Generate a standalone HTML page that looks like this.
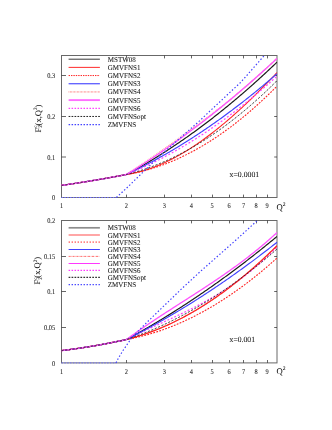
<!DOCTYPE html>
<html><head><meta charset="utf-8"><title>F2c plots</title>
<style>
html,body{margin:0;padding:0;background:#fff;}
body{width:332px;height:430px;overflow:hidden;}
svg{display:block;}
text{font-family:"Liberation Serif",serif;fill:#111;text-rendering:geometricPrecision;}
text{filter:grayscale(1);stroke:#111;stroke-width:0.05px;}
</style></head><body>
<svg width="332" height="430" viewBox="0 0 332 430">
<rect width="332" height="430" fill="#fff"/>

<defs><clipPath id="cu"><rect x="61.0" y="55.5" width="216.5" height="143.0"/></clipPath><clipPath id="cl"><rect x="61.0" y="220.5" width="216.5" height="143.39999999999998"/></clipPath></defs>
<rect x="61.5" y="55.5" width="215.5" height="142.0" fill="none" stroke="#686868" stroke-width="1"/>
<path d="M126.50 197.5v-2.9M126.50 55.5v2.9" stroke="#333" stroke-width="0.75" fill="none"/>
<path d="M164.50 197.5v-2.9M164.50 55.5v2.9" stroke="#333" stroke-width="0.75" fill="none"/>
<path d="M191.50 197.5v-2.9M191.50 55.5v2.9" stroke="#333" stroke-width="0.75" fill="none"/>
<path d="M212.50 197.5v-2.9M212.50 55.5v2.9" stroke="#333" stroke-width="0.75" fill="none"/>
<path d="M229.50 197.5v-2.9M229.50 55.5v2.9" stroke="#333" stroke-width="0.75" fill="none"/>
<path d="M243.50 197.5v-2.9M243.50 55.5v2.9" stroke="#333" stroke-width="0.75" fill="none"/>
<path d="M256.50 197.5v-2.9M256.50 55.5v2.9" stroke="#333" stroke-width="0.75" fill="none"/>
<path d="M267.50 197.5v-2.9M267.50 55.5v2.9" stroke="#333" stroke-width="0.75" fill="none"/>
<path d="M61.5 157.00h4.5M277.0 157.00h-2.8" stroke="#333" stroke-width="0.75" fill="none"/>
<path d="M61.5 116.50h4.5M277.0 116.50h-2.8" stroke="#333" stroke-width="0.75" fill="none"/>
<path d="M61.5 75.50h4.5M277.0 75.50h-2.8" stroke="#333" stroke-width="0.75" fill="none"/>
<text transform="translate(55.1,200.10) scale(0.87,1)" font-size="7.3" text-anchor="end">0</text>
<text transform="translate(55.1,159.80) scale(0.87,1)" font-size="7.3" text-anchor="end">0.1</text>
<text transform="translate(55.1,119.10) scale(0.87,1)" font-size="7.3" text-anchor="end">0.2</text>
<text transform="translate(55.1,78.30) scale(0.87,1)" font-size="7.3" text-anchor="end">0.3</text>
<text transform="translate(61.50,208.20) scale(0.87,1)" font-size="7.3" text-anchor="middle">1</text>
<text transform="translate(126.37,208.20) scale(0.87,1)" font-size="7.3" text-anchor="middle">2</text>
<text transform="translate(164.32,208.20) scale(0.87,1)" font-size="7.3" text-anchor="middle">3</text>
<text transform="translate(191.24,208.20) scale(0.87,1)" font-size="7.3" text-anchor="middle">4</text>
<text transform="translate(212.13,208.20) scale(0.87,1)" font-size="7.3" text-anchor="middle">5</text>
<text transform="translate(229.19,208.20) scale(0.87,1)" font-size="7.3" text-anchor="middle">6</text>
<text transform="translate(243.62,208.20) scale(0.87,1)" font-size="7.3" text-anchor="middle">7</text>
<text transform="translate(256.12,208.20) scale(0.87,1)" font-size="7.3" text-anchor="middle">8</text>
<text transform="translate(267.14,208.20) scale(0.87,1)" font-size="7.3" text-anchor="middle">9</text>
<text x="276.6" y="210.30" font-size="8.6">Q<tspan dy="-4.4" font-size="5.6">2</tspan></text>
<g transform="translate(40.6,132.4) rotate(-90)"><text x="0" y="0" font-size="8.5">F<tspan dy="1.8" font-size="5">2</tspan><tspan dx="-2.5" dy="-5.2" font-size="5">c</tspan><tspan dy="3.4" font-size="8.5">(x,Q</tspan><tspan dy="-3.4" font-size="5">2</tspan><tspan dy="3.4" font-size="8.5">)</tspan></text></g>
<g clip-path="url(#cu)" fill="none" stroke-linejoin="round">
<polyline points="61.50,185.40 62.50,185.26 63.50,185.11 64.50,184.97 65.50,184.82 66.50,184.68 67.50,184.53 68.50,184.38 69.50,184.23 70.50,184.09 71.50,183.94 72.50,183.79 73.50,183.63 74.50,183.48 75.50,183.33 76.50,183.17 77.50,183.02 78.50,182.87 79.50,182.71 80.50,182.55 81.50,182.39 82.50,182.24 83.50,182.08 84.50,181.92 85.50,181.76 86.50,181.59 87.50,181.43 88.50,181.27 89.50,181.11 90.50,180.94 91.50,180.78 92.50,180.61 93.50,180.44 94.50,180.27 95.50,180.11 96.50,179.94 97.50,179.77 98.50,179.60 99.50,179.42 100.50,179.25 101.50,179.08 102.50,178.91 103.50,178.73 104.50,178.56 105.50,178.38 106.50,178.20 107.50,178.02 108.50,177.85 109.50,177.67 110.50,177.49 111.50,177.31 112.50,177.12 113.50,176.94 114.50,176.76 115.50,176.57 116.50,176.39 117.50,176.20 118.50,176.02 119.50,175.83 120.50,175.64 121.50,175.45 122.50,175.27 123.50,175.08 124.50,174.88 125.50,174.69 126.50,174.50 127.50,173.96 128.50,173.43 129.50,172.89 130.50,172.34 131.50,171.79 132.50,171.25 133.50,170.69 134.50,170.14 135.50,169.58 136.50,169.02 137.50,168.46 138.50,167.89 139.50,167.32 140.50,166.75 141.50,166.17 142.50,165.60 143.50,165.01 144.50,164.43 145.50,163.84 146.50,163.26 147.50,162.66 148.50,162.07 149.50,161.47 150.50,160.87 151.50,160.27 152.50,159.66 153.50,159.05 154.50,158.44 155.50,157.83 156.50,157.21 157.50,156.59 158.50,155.97 159.50,155.34 160.50,154.71 161.50,154.08 162.50,153.45 163.50,152.81 164.50,152.17 165.50,151.53 166.50,150.88 167.50,150.24 168.50,149.58 169.50,148.93 170.50,148.27 171.50,147.61 172.50,146.95 173.50,146.29 174.50,145.62 175.50,144.95 176.50,144.28 177.50,143.60 178.50,142.92 179.50,142.24 180.50,141.55 181.50,140.86 182.50,140.17 183.50,139.48 184.50,138.78 185.50,138.09 186.50,137.38 187.50,136.68 188.50,135.97 189.50,135.26 190.50,134.55 191.50,133.83 192.50,133.11 193.50,132.39 194.50,131.67 195.50,130.94 196.50,130.21 197.50,129.48 198.50,128.74 199.50,128.00 200.50,127.26 201.50,126.52 202.50,125.77 203.50,125.02 204.50,124.27 205.50,123.51 206.50,122.76 207.50,121.99 208.50,121.23 209.50,120.46 210.50,119.70 211.50,118.92 212.50,118.15 213.50,117.37 214.50,116.59 215.50,115.81 216.50,115.02 217.50,114.23 218.50,113.44 219.50,112.64 220.50,111.85 221.50,111.04 222.50,110.24 223.50,109.44 224.50,108.63 225.50,107.81 226.50,107.00 227.50,106.18 228.50,105.36 229.50,104.54 230.50,103.71 231.50,102.88 232.50,102.05 233.50,101.22 234.50,100.38 235.50,99.54 236.50,98.70 237.50,97.85 238.50,97.00 239.50,96.15 240.50,95.30 241.50,94.44 242.50,93.58 243.50,92.72 244.50,91.86 245.50,90.99 246.50,90.12 247.50,89.24 248.50,88.37 249.50,87.49 250.50,86.60 251.50,85.72 252.50,84.83 253.50,83.94 254.50,83.05 255.50,82.15 256.50,81.25 257.50,80.35 258.50,79.44 259.50,78.54 260.50,77.63 261.50,76.71 262.50,75.80 263.50,74.88 264.50,73.96 265.50,73.03 266.50,72.10 267.50,71.17 268.50,70.24 269.50,69.30 270.50,68.37 271.50,67.42 272.50,66.48 273.50,65.53 274.50,64.58 275.50,63.63 276.50,62.67 277.00,62.20" stroke="#1a1a1a" stroke-width="1.2"/>
<polyline points="61.50,185.40 62.50,185.26 63.50,185.11 64.50,184.97 65.50,184.82 66.50,184.68 67.50,184.53 68.50,184.38 69.50,184.23 70.50,184.09 71.50,183.94 72.50,183.79 73.50,183.63 74.50,183.48 75.50,183.33 76.50,183.17 77.50,183.02 78.50,182.87 79.50,182.71 80.50,182.55 81.50,182.39 82.50,182.24 83.50,182.08 84.50,181.92 85.50,181.76 86.50,181.59 87.50,181.43 88.50,181.27 89.50,181.11 90.50,180.94 91.50,180.78 92.50,180.61 93.50,180.44 94.50,180.27 95.50,180.11 96.50,179.94 97.50,179.77 98.50,179.60 99.50,179.42 100.50,179.25 101.50,179.08 102.50,178.91 103.50,178.73 104.50,178.56 105.50,178.38 106.50,178.20 107.50,178.02 108.50,177.85 109.50,177.67 110.50,177.49 111.50,177.31 112.50,177.12 113.50,176.94 114.50,176.76 115.50,176.57 116.50,176.39 117.50,176.20 118.50,176.02 119.50,175.83 120.50,175.64 121.50,175.45 122.50,175.27 123.50,175.08 124.50,174.88 125.50,174.69 126.50,174.50 127.50,174.34 128.50,174.18 129.50,174.01 130.50,173.82 131.50,173.63 132.50,173.43 133.50,173.22 134.50,173.01 135.50,172.78 136.50,172.55 137.50,172.30 138.50,172.05 139.50,171.79 140.50,171.53 141.50,171.25 142.50,170.97 143.50,170.67 144.50,170.37 145.50,170.07 146.50,169.75 147.50,169.42 148.50,169.09 149.50,168.75 150.50,168.40 151.50,168.04 152.50,167.68 153.50,167.31 154.50,166.93 155.50,166.54 156.50,166.14 157.50,165.74 158.50,165.33 159.50,164.91 160.50,164.48 161.50,164.05 162.50,163.61 163.50,163.16 164.50,162.70 165.50,162.24 166.50,161.76 167.50,161.28 168.50,160.80 169.50,160.31 170.50,159.80 171.50,159.30 172.50,158.78 173.50,158.26 174.50,157.73 175.50,157.19 176.50,156.65 177.50,156.10 178.50,155.54 179.50,154.98 180.50,154.41 181.50,153.83 182.50,153.24 183.50,152.65 184.50,152.05 185.50,151.45 186.50,150.84 187.50,150.22 188.50,149.59 189.50,148.96 190.50,148.33 191.50,147.68 192.50,147.03 193.50,146.37 194.50,145.71 195.50,145.04 196.50,144.36 197.50,143.68 198.50,142.99 199.50,142.30 200.50,141.60 201.50,140.89 202.50,140.18 203.50,139.46 204.50,138.73 205.50,138.00 206.50,137.27 207.50,136.52 208.50,135.77 209.50,135.02 210.50,134.26 211.50,133.49 212.50,132.72 213.50,131.94 214.50,131.16 215.50,130.37 216.50,129.58 217.50,128.78 218.50,127.97 219.50,127.16 220.50,126.35 221.50,125.53 222.50,124.70 223.50,123.87 224.50,123.03 225.50,122.19 226.50,121.34 227.50,120.49 228.50,119.63 229.50,118.77 230.50,117.90 231.50,117.03 232.50,116.15 233.50,115.26 234.50,114.38 235.50,113.48 236.50,112.59 237.50,111.68 238.50,110.78 239.50,109.87 240.50,108.95 241.50,108.03 242.50,107.10 243.50,106.17 244.50,105.24 245.50,104.30 246.50,103.36 247.50,102.41 248.50,101.45 249.50,100.50 250.50,99.54 251.50,98.57 252.50,97.60 253.50,96.63 254.50,95.65 255.50,94.67 256.50,93.68 257.50,92.69 258.50,91.70 259.50,90.70 260.50,89.70 261.50,88.69 262.50,87.68 263.50,86.67 264.50,85.65 265.50,84.63 266.50,83.61 267.50,82.58 268.50,81.54 269.50,80.51 270.50,79.47 271.50,78.43 272.50,77.38 273.50,76.33 274.50,75.28 275.50,74.22 276.50,73.16 277.00,72.63" stroke="#ff2020" stroke-width="1.05"/>
<polyline points="61.50,185.40 62.50,185.26 63.50,185.11 64.50,184.97 65.50,184.82 66.50,184.68 67.50,184.53 68.50,184.38 69.50,184.23 70.50,184.09 71.50,183.94 72.50,183.79 73.50,183.63 74.50,183.48 75.50,183.33 76.50,183.17 77.50,183.02 78.50,182.87 79.50,182.71 80.50,182.55 81.50,182.39 82.50,182.24 83.50,182.08 84.50,181.92 85.50,181.76 86.50,181.59 87.50,181.43 88.50,181.27 89.50,181.11 90.50,180.94 91.50,180.78 92.50,180.61 93.50,180.44 94.50,180.27 95.50,180.11 96.50,179.94 97.50,179.77 98.50,179.60 99.50,179.42 100.50,179.25 101.50,179.08 102.50,178.91 103.50,178.73 104.50,178.56 105.50,178.38 106.50,178.20 107.50,178.02 108.50,177.85 109.50,177.67 110.50,177.49 111.50,177.31 112.50,177.12 113.50,176.94 114.50,176.76 115.50,176.57 116.50,176.39 117.50,176.20 118.50,176.02 119.50,175.83 120.50,175.64 121.50,175.45 122.50,175.27 123.50,175.08 124.50,174.88 125.50,174.69 126.50,174.50 127.50,174.34 128.50,174.17 129.50,173.99 130.50,173.81 131.50,173.62 132.50,173.43 133.50,173.23 134.50,173.03 135.50,172.82 136.50,172.60 137.50,172.38 138.50,172.15 139.50,171.92 140.50,171.68 141.50,171.44 142.50,171.19 143.50,170.94 144.50,170.68 145.50,170.41 146.50,170.14 147.50,169.86 148.50,169.58 149.50,169.29 150.50,168.99 151.50,168.69 152.50,168.39 153.50,168.08 154.50,167.76 155.50,167.44 156.50,167.11 157.50,166.77 158.50,166.43 159.50,166.09 160.50,165.74 161.50,165.38 162.50,165.02 163.50,164.65 164.50,164.28 165.50,163.90 166.50,163.51 167.50,163.12 168.50,162.72 169.50,162.32 170.50,161.92 171.50,161.50 172.50,161.08 173.50,160.66 174.50,160.23 175.50,159.79 176.50,159.35 177.50,158.90 178.50,158.45 179.50,157.99 180.50,157.53 181.50,157.06 182.50,156.58 183.50,156.10 184.50,155.61 185.50,155.12 186.50,154.62 187.50,154.12 188.50,153.61 189.50,153.09 190.50,152.57 191.50,152.05 192.50,151.51 193.50,150.98 194.50,150.43 195.50,149.88 196.50,149.33 197.50,148.77 198.50,148.20 199.50,147.63 200.50,147.05 201.50,146.47 202.50,145.88 203.50,145.29 204.50,144.69 205.50,144.08 206.50,143.47 207.50,142.85 208.50,142.23 209.50,141.60 210.50,140.97 211.50,140.33 212.50,139.68 213.50,139.03 214.50,138.37 215.50,137.71 216.50,137.04 217.50,136.37 218.50,135.69 219.50,135.00 220.50,134.31 221.50,133.62 222.50,132.91 223.50,132.21 224.50,131.49 225.50,130.77 226.50,130.05 227.50,129.32 228.50,128.58 229.50,127.84 230.50,127.09 231.50,126.34 232.50,125.58 233.50,124.82 234.50,124.05 235.50,123.27 236.50,122.49 237.50,121.71 238.50,120.91 239.50,120.11 240.50,119.31 241.50,118.50 242.50,117.69 243.50,116.86 244.50,116.04 245.50,115.21 246.50,114.37 247.50,113.52 248.50,112.68 249.50,111.82 250.50,110.96 251.50,110.09 252.50,109.22 253.50,108.34 254.50,107.46 255.50,106.57 256.50,105.68 257.50,104.78 258.50,103.87 259.50,102.96 260.50,102.04 261.50,101.12 262.50,100.19 263.50,99.26 264.50,98.32 265.50,97.37 266.50,96.42 267.50,95.47 268.50,94.50 269.50,93.53 270.50,92.56 271.50,91.58 272.50,90.60 273.50,89.61 274.50,88.61 275.50,87.61 276.50,86.60 277.00,86.09" stroke="#ff2020" stroke-width="1.1" stroke-dasharray="1.82 1.30"/>
<polyline points="61.50,185.40 62.50,185.26 63.50,185.11 64.50,184.97 65.50,184.82 66.50,184.68 67.50,184.53 68.50,184.38 69.50,184.23 70.50,184.09 71.50,183.94 72.50,183.79 73.50,183.63 74.50,183.48 75.50,183.33 76.50,183.17 77.50,183.02 78.50,182.87 79.50,182.71 80.50,182.55 81.50,182.39 82.50,182.24 83.50,182.08 84.50,181.92 85.50,181.76 86.50,181.59 87.50,181.43 88.50,181.27 89.50,181.11 90.50,180.94 91.50,180.78 92.50,180.61 93.50,180.44 94.50,180.27 95.50,180.11 96.50,179.94 97.50,179.77 98.50,179.60 99.50,179.42 100.50,179.25 101.50,179.08 102.50,178.91 103.50,178.73 104.50,178.56 105.50,178.38 106.50,178.20 107.50,178.02 108.50,177.85 109.50,177.67 110.50,177.49 111.50,177.31 112.50,177.12 113.50,176.94 114.50,176.76 115.50,176.57 116.50,176.39 117.50,176.20 118.50,176.02 119.50,175.83 120.50,175.64 121.50,175.45 122.50,175.27 123.50,175.08 124.50,174.88 125.50,174.69 126.50,174.50 127.50,174.03 128.50,173.56 129.50,173.08 130.50,172.61 131.50,172.13 132.50,171.64 133.50,171.16 134.50,170.67 135.50,170.18 136.50,169.69 137.50,169.19 138.50,168.69 139.50,168.19 140.50,167.69 141.50,167.18 142.50,166.67 143.50,166.16 144.50,165.64 145.50,165.12 146.50,164.60 147.50,164.08 148.50,163.56 149.50,163.03 150.50,162.50 151.50,161.96 152.50,161.43 153.50,160.89 154.50,160.35 155.50,159.80 156.50,159.25 157.50,158.70 158.50,158.15 159.50,157.60 160.50,157.04 161.50,156.48 162.50,155.92 163.50,155.35 164.50,154.78 165.50,154.21 166.50,153.64 167.50,153.06 168.50,152.48 169.50,151.90 170.50,151.31 171.50,150.73 172.50,150.14 173.50,149.54 174.50,148.95 175.50,148.35 176.50,147.75 177.50,147.15 178.50,146.54 179.50,145.93 180.50,145.32 181.50,144.71 182.50,144.09 183.50,143.47 184.50,142.85 185.50,142.22 186.50,141.60 187.50,140.97 188.50,140.33 189.50,139.70 190.50,139.06 191.50,138.42 192.50,137.77 193.50,137.13 194.50,136.48 195.50,135.83 196.50,135.17 197.50,134.52 198.50,133.86 199.50,133.20 200.50,132.53 201.50,131.86 202.50,131.19 203.50,130.52 204.50,129.84 205.50,129.17 206.50,128.48 207.50,127.80 208.50,127.11 209.50,126.42 210.50,125.73 211.50,125.04 212.50,124.34 213.50,123.64 214.50,122.94 215.50,122.23 216.50,121.53 217.50,120.82 218.50,120.10 219.50,119.39 220.50,118.67 221.50,117.95 222.50,117.22 223.50,116.50 224.50,115.77 225.50,115.03 226.50,114.30 227.50,113.56 228.50,112.82 229.50,112.08 230.50,111.33 231.50,110.59 232.50,109.84 233.50,109.08 234.50,108.33 235.50,107.57 236.50,106.81 237.50,106.04 238.50,105.28 239.50,104.51 240.50,103.73 241.50,102.96 242.50,102.18 243.50,101.40 244.50,100.62 245.50,99.83 246.50,99.04 247.50,98.25 248.50,97.46 249.50,96.66 250.50,95.86 251.50,95.06 252.50,94.26 253.50,93.45 254.50,92.64 255.50,91.83 256.50,91.01 257.50,90.20 258.50,89.38 259.50,88.55 260.50,87.73 261.50,86.90 262.50,86.07 263.50,85.23 264.50,84.40 265.50,83.56 266.50,82.72 267.50,81.87 268.50,81.02 269.50,80.17 270.50,79.32 271.50,78.47 272.50,77.61 273.50,76.75 274.50,75.88 275.50,75.02 276.50,74.15 277.00,73.71" stroke="#4040ff" stroke-width="1.15"/>
<polyline points="61.50,185.40 62.50,185.26 63.50,185.11 64.50,184.97 65.50,184.82 66.50,184.68 67.50,184.53 68.50,184.38 69.50,184.23 70.50,184.09 71.50,183.94 72.50,183.79 73.50,183.63 74.50,183.48 75.50,183.33 76.50,183.17 77.50,183.02 78.50,182.87 79.50,182.71 80.50,182.55 81.50,182.39 82.50,182.24 83.50,182.08 84.50,181.92 85.50,181.76 86.50,181.59 87.50,181.43 88.50,181.27 89.50,181.11 90.50,180.94 91.50,180.78 92.50,180.61 93.50,180.44 94.50,180.27 95.50,180.11 96.50,179.94 97.50,179.77 98.50,179.60 99.50,179.42 100.50,179.25 101.50,179.08 102.50,178.91 103.50,178.73 104.50,178.56 105.50,178.38 106.50,178.20 107.50,178.02 108.50,177.85 109.50,177.67 110.50,177.49 111.50,177.31 112.50,177.12 113.50,176.94 114.50,176.76 115.50,176.57 116.50,176.39 117.50,176.20 118.50,176.02 119.50,175.83 120.50,175.64 121.50,175.45 122.50,175.27 123.50,175.08 124.50,174.88 125.50,174.69 126.50,174.50 127.50,173.84 128.50,173.18 129.50,172.51 130.50,171.85 131.50,171.19 132.50,170.52 133.50,169.85 134.50,169.18 135.50,168.51 136.50,167.84 137.50,167.17 138.50,166.50 139.50,165.82 140.50,165.15 141.50,164.47 142.50,163.79 143.50,163.12 144.50,162.44 145.50,161.75 146.50,161.07 147.50,160.39 148.50,159.70 149.50,159.02 150.50,158.33 151.50,157.64 152.50,156.95 153.50,156.26 154.50,155.57 155.50,154.88 156.50,154.19 157.50,153.49 158.50,152.80 159.50,152.10 160.50,151.40 161.50,150.70 162.50,150.00 163.50,149.30 164.50,148.60 165.50,147.89 166.50,147.19 167.50,146.48 168.50,145.77 169.50,145.07 170.50,144.36 171.50,143.65 172.50,142.93 173.50,142.22 174.50,141.51 175.50,140.79 176.50,140.07 177.50,139.36 178.50,138.64 179.50,137.92 180.50,137.20 181.50,136.48 182.50,135.75 183.50,135.03 184.50,134.30 185.50,133.58 186.50,132.85 187.50,132.12 188.50,131.39 189.50,130.66 190.50,129.93 191.50,129.19 192.50,128.46 193.50,127.72 194.50,126.98 195.50,126.25 196.50,125.51 197.50,124.77 198.50,124.03 199.50,123.28 200.50,122.54 201.50,121.79 202.50,121.05 203.50,120.30 204.50,119.55 205.50,118.80 206.50,118.05 207.50,117.30 208.50,116.55 209.50,115.79 210.50,115.04 211.50,114.28 212.50,113.52 213.50,112.77 214.50,112.01 215.50,111.25 216.50,110.48 217.50,109.72 218.50,108.96 219.50,108.19 220.50,107.42 221.50,106.66 222.50,105.89 223.50,105.12 224.50,104.35 225.50,103.57 226.50,102.80 227.50,101.97 228.50,101.15 229.50,100.32 230.50,99.49 231.50,98.65 232.50,97.82 233.50,96.98 234.50,96.14 235.50,95.30 236.50,94.45 237.50,93.61 238.50,92.76 239.50,91.91 240.50,91.05 241.50,90.20 242.50,89.34 243.50,88.48 244.50,87.62 245.50,86.76 246.50,85.89 247.50,85.02 248.50,84.15 249.50,83.28 250.50,82.41 251.50,81.53 252.50,80.65 253.50,79.77 254.50,78.89 255.50,78.00 256.50,77.12 257.50,76.23 258.50,75.34 259.50,74.44 260.50,73.55 261.50,72.65 262.50,71.75 263.50,70.85 264.50,69.94 265.50,69.04 266.50,68.13 267.50,67.22 268.50,66.30 269.50,65.39 270.50,64.47 271.50,63.55 272.50,62.63 273.50,61.71 274.50,60.78 275.50,59.85 276.50,58.92 277.00,58.46" stroke="#ffa0a0" stroke-width="1.5" stroke-dasharray="0.91 0.91"/>
<polyline points="61.50,185.40 62.50,185.26 63.50,185.11 64.50,184.97 65.50,184.82 66.50,184.68 67.50,184.53 68.50,184.38 69.50,184.23 70.50,184.09 71.50,183.94 72.50,183.79 73.50,183.63 74.50,183.48 75.50,183.33 76.50,183.17 77.50,183.02 78.50,182.87 79.50,182.71 80.50,182.55 81.50,182.39 82.50,182.24 83.50,182.08 84.50,181.92 85.50,181.76 86.50,181.59 87.50,181.43 88.50,181.27 89.50,181.11 90.50,180.94 91.50,180.78 92.50,180.61 93.50,180.44 94.50,180.27 95.50,180.11 96.50,179.94 97.50,179.77 98.50,179.60 99.50,179.42 100.50,179.25 101.50,179.08 102.50,178.91 103.50,178.73 104.50,178.56 105.50,178.38 106.50,178.20 107.50,178.02 108.50,177.85 109.50,177.67 110.50,177.49 111.50,177.31 112.50,177.12 113.50,176.94 114.50,176.76 115.50,176.57 116.50,176.39 117.50,176.20 118.50,176.02 119.50,175.83 120.50,175.64 121.50,175.45 122.50,175.27 123.50,175.08 124.50,174.88 125.50,174.69 126.50,174.50 127.50,173.89 128.50,173.28 129.50,172.66 130.50,172.04 131.50,171.42 132.50,170.80 133.50,170.18 134.50,169.55 135.50,168.92 136.50,168.29 137.50,167.66 138.50,167.03 139.50,166.39 140.50,165.75 141.50,165.11 142.50,164.47 143.50,163.82 144.50,163.17 145.50,162.52 146.50,161.87 147.50,161.22 148.50,160.56 149.50,159.90 150.50,159.24 151.50,158.58 152.50,157.92 153.50,157.25 154.50,156.58 155.50,155.91 156.50,155.24 157.50,154.56 158.50,153.88 159.50,153.20 160.50,152.52 161.50,151.84 162.50,151.15 163.50,150.47 164.50,149.77 165.50,149.08 166.50,148.39 167.50,147.69 168.50,146.99 169.50,146.29 170.50,145.59 171.50,144.88 172.50,144.18 173.50,143.47 174.50,142.75 175.50,142.04 176.50,141.32 177.50,140.61 178.50,139.89 179.50,139.16 180.50,138.44 181.50,137.71 182.50,136.98 183.50,136.25 184.50,135.52 185.50,134.79 186.50,134.05 187.50,133.31 188.50,132.57 189.50,131.82 190.50,131.08 191.50,130.33 192.50,129.58 193.50,128.83 194.50,128.07 195.50,127.32 196.50,126.56 197.50,125.80 198.50,125.03 199.50,124.27 200.50,123.50 201.50,122.73 202.50,121.96 203.50,121.19 204.50,120.41 205.50,119.63 206.50,118.85 207.50,118.07 208.50,117.29 209.50,116.50 210.50,115.71 211.50,114.92 212.50,114.13 213.50,113.33 214.50,112.53 215.50,111.73 216.50,110.93 217.50,110.13 218.50,109.32 219.50,108.52 220.50,107.71 221.50,106.89 222.50,106.08 223.50,105.26 224.50,104.44 225.50,103.62 226.50,102.80 227.50,101.97 228.50,101.15 229.50,100.32 230.50,99.49 231.50,98.65 232.50,97.82 233.50,96.98 234.50,96.14 235.50,95.30 236.50,94.45 237.50,93.61 238.50,92.76 239.50,91.91 240.50,91.05 241.50,90.20 242.50,89.34 243.50,88.48 244.50,87.62 245.50,86.76 246.50,85.89 247.50,85.02 248.50,84.15 249.50,83.28 250.50,82.41 251.50,81.53 252.50,80.65 253.50,79.77 254.50,78.89 255.50,78.00 256.50,77.12 257.50,76.23 258.50,75.34 259.50,74.44 260.50,73.55 261.50,72.65 262.50,71.75 263.50,70.85 264.50,69.94 265.50,69.04 266.50,68.13 267.50,67.22 268.50,66.30 269.50,65.39 270.50,64.47 271.50,63.55 272.50,62.63 273.50,61.71 274.50,60.78 275.50,59.85 276.50,58.92 277.00,58.46" stroke="#ff50ff" stroke-width="1.3"/>
<polyline points="61.50,185.40 62.50,185.26 63.50,185.11 64.50,184.97 65.50,184.82 66.50,184.68 67.50,184.53 68.50,184.38 69.50,184.23 70.50,184.09 71.50,183.94 72.50,183.79 73.50,183.63 74.50,183.48 75.50,183.33 76.50,183.17 77.50,183.02 78.50,182.87 79.50,182.71 80.50,182.55 81.50,182.39 82.50,182.24 83.50,182.08 84.50,181.92 85.50,181.76 86.50,181.59 87.50,181.43 88.50,181.27 89.50,181.11 90.50,180.94 91.50,180.78 92.50,180.61 93.50,180.44 94.50,180.27 95.50,180.11 96.50,179.94 97.50,179.77 98.50,179.60 99.50,179.42 100.50,179.25 101.50,179.08 102.50,178.91 103.50,178.73 104.50,178.56 105.50,178.38 106.50,178.20 107.50,178.02 108.50,177.85 109.50,177.67 110.50,177.49 111.50,177.31 112.50,177.12 113.50,176.94 114.50,176.76 115.50,176.57 116.50,176.39 117.50,176.20 118.50,176.02 119.50,175.83 120.50,175.64 121.50,175.45 122.50,175.27 123.50,175.08 124.50,174.88 125.50,174.69 126.50,174.50 127.50,174.10 128.50,173.69 129.50,173.28 130.50,172.87 131.50,172.46 132.50,172.04 133.50,171.62 134.50,171.19 135.50,170.76 136.50,170.33 137.50,169.90 138.50,169.46 139.50,169.02 140.50,168.57 141.50,168.12 142.50,167.67 143.50,167.21 144.50,166.76 145.50,166.29 146.50,165.83 147.50,165.36 148.50,164.89 149.50,164.41 150.50,163.93 151.50,163.45 152.50,162.96 153.50,162.48 154.50,161.98 155.50,161.49 156.50,160.99 157.50,160.49 158.50,159.98 159.50,159.47 160.50,158.96 161.50,158.44 162.50,157.92 163.50,157.40 164.50,156.87 165.50,156.34 166.50,155.81 167.50,155.28 168.50,154.74 169.50,154.19 170.50,153.65 171.50,153.10 172.50,152.55 173.50,151.99 174.50,151.43 175.50,150.87 176.50,150.30 177.50,149.73 178.50,149.16 179.50,148.58 180.50,148.00 181.50,147.42 182.50,146.83 183.50,146.24 184.50,145.65 185.50,145.05 186.50,144.45 187.50,143.85 188.50,143.24 189.50,142.63 190.50,142.02 191.50,141.40 192.50,140.78 193.50,140.16 194.50,139.53 195.50,138.90 196.50,138.27 197.50,137.63 198.50,136.99 199.50,136.35 200.50,135.70 201.50,135.05 202.50,134.40 203.50,133.74 204.50,133.08 205.50,132.42 206.50,131.75 207.50,131.08 208.50,130.40 209.50,129.73 210.50,129.05 211.50,128.36 212.50,127.67 213.50,126.98 214.50,126.29 215.50,125.59 216.50,124.89 217.50,124.19 218.50,123.48 219.50,122.77 220.50,122.06 221.50,121.34 222.50,120.62 223.50,119.89 224.50,119.17 225.50,118.43 226.50,117.70 227.50,116.96 228.50,116.22 229.50,115.48 230.50,114.73 231.50,113.98 232.50,113.22 233.50,112.47 234.50,111.70 235.50,110.94 236.50,110.17 237.50,109.40 238.50,108.63 239.50,107.85 240.50,107.07 241.50,106.28 242.50,105.49 243.50,104.70 244.50,103.91 245.50,103.11 246.50,102.31 247.50,101.50 248.50,100.69 249.50,99.88 250.50,99.07 251.50,98.25 252.50,97.43 253.50,96.60 254.50,95.77 255.50,94.94 256.50,94.11 257.50,93.27 258.50,92.43 259.50,91.58 260.50,90.73 261.50,89.88 262.50,89.03 263.50,88.17 264.50,87.31 265.50,86.44 266.50,85.57 267.50,84.70 268.50,83.82 269.50,82.95 270.50,82.06 271.50,81.18 272.50,80.29 273.50,79.40 274.50,78.50 275.50,77.60 276.50,76.70 277.00,76.25" stroke="#ff40ff" stroke-width="1.2" stroke-dasharray="1.95 1.92"/>
<polyline points="61.50,185.40 62.50,185.26 63.50,185.11 64.50,184.97 65.50,184.82 66.50,184.68 67.50,184.53 68.50,184.38 69.50,184.23 70.50,184.09 71.50,183.94 72.50,183.79 73.50,183.63 74.50,183.48 75.50,183.33 76.50,183.17 77.50,183.02 78.50,182.87 79.50,182.71 80.50,182.55 81.50,182.39 82.50,182.24 83.50,182.08 84.50,181.92 85.50,181.76 86.50,181.59 87.50,181.43 88.50,181.27 89.50,181.11 90.50,180.94 91.50,180.78 92.50,180.61 93.50,180.44 94.50,180.27 95.50,180.11 96.50,179.94 97.50,179.77 98.50,179.60 99.50,179.42 100.50,179.25 101.50,179.08 102.50,178.91 103.50,178.73 104.50,178.56 105.50,178.38 106.50,178.20 107.50,178.02 108.50,177.85 109.50,177.67 110.50,177.49 111.50,177.31 112.50,177.12 113.50,176.94 114.50,176.76 115.50,176.57 116.50,176.39 117.50,176.20 118.50,176.02 119.50,175.83 120.50,175.64 121.50,175.45 122.50,175.27 123.50,175.08 124.50,174.88 125.50,174.69 126.50,174.50 127.50,174.25 128.50,174.00 129.50,173.74 130.50,173.47 131.50,173.20 132.50,172.93 133.50,172.65 134.50,172.36 135.50,172.07 136.50,171.78 137.50,171.48 138.50,171.18 139.50,170.87 140.50,170.55 141.50,170.23 142.50,169.91 143.50,169.58 144.50,169.24 145.50,168.90 146.50,168.56 147.50,168.21 148.50,167.86 149.50,167.50 150.50,167.13 151.50,166.76 152.50,166.39 153.50,166.01 154.50,165.62 155.50,165.23 156.50,164.84 157.50,164.44 158.50,164.04 159.50,163.63 160.50,163.21 161.50,162.79 162.50,162.37 163.50,161.94 164.50,161.50 165.50,161.06 166.50,160.62 167.50,160.17 168.50,159.72 169.50,159.26 170.50,158.79 171.50,158.32 172.50,157.85 173.50,157.37 174.50,156.88 175.50,156.39 176.50,155.90 177.50,155.40 178.50,154.90 179.50,154.39 180.50,153.87 181.50,153.35 182.50,152.83 183.50,152.30 184.50,151.76 185.50,151.22 186.50,150.68 187.50,150.13 188.50,149.58 189.50,149.02 190.50,148.45 191.50,147.88 192.50,147.31 193.50,146.73 194.50,146.14 195.50,145.55 196.50,144.96 197.50,144.36 198.50,143.76 199.50,143.15 200.50,142.53 201.50,141.91 202.50,141.29 203.50,140.66 204.50,140.02 205.50,139.38 206.50,138.74 207.50,138.09 208.50,137.44 209.50,136.78 210.50,136.11 211.50,135.44 212.50,134.77 213.50,134.09 214.50,133.40 215.50,132.71 216.50,132.02 217.50,131.32 218.50,130.62 219.50,129.91 220.50,129.19 221.50,128.47 222.50,127.75 223.50,127.02 224.50,126.28 225.50,125.54 226.50,124.80 227.50,124.05 228.50,123.30 229.50,122.54 230.50,121.77 231.50,121.00 232.50,120.23 233.50,119.45 234.50,118.66 235.50,117.87 236.50,117.08 237.50,116.28 238.50,115.48 239.50,114.67 240.50,113.85 241.50,113.03 242.50,112.21 243.50,111.38 244.50,110.54 245.50,109.70 246.50,108.86 247.50,108.01 248.50,107.16 249.50,106.30 250.50,105.43 251.50,104.56 252.50,103.69 253.50,102.81 254.50,101.92 255.50,101.03 256.50,100.14 257.50,99.24 258.50,98.34 259.50,97.43 260.50,96.51 261.50,95.59 262.50,94.67 263.50,93.74 264.50,92.80 265.50,91.86 266.50,90.92 267.50,89.97 268.50,89.02 269.50,88.06 270.50,87.09 271.50,86.12 272.50,85.15 273.50,84.17 274.50,83.18 275.50,82.19 276.50,81.20 277.00,80.70" stroke="#222" stroke-width="1.0" stroke-dasharray="2.21 1.64"/>
<polyline points="61.50,197.50 116.40,197.50" stroke="#7070ff" stroke-width="1.0" stroke-dasharray="1.5 1.35"/>
<polyline points="116.40,197.50 126.40,188.30 145.00,170.20 160.00,155.80 200.00,120.50 210.00,111.00 240.00,83.00 245.00,77.50 264.30,55.50" stroke="#4040ff" stroke-width="1.2" stroke-dasharray="1.45 2.05"/>
</g>
<path d="M68.6 59.20H99.9" stroke="#222" stroke-width="0.9" fill="none"/>
<text transform="translate(107.8,61.70) scale(0.94,1)" font-size="7.45">MSTW08</text>
<path d="M68.6 67.38H99.9" stroke="#ff2020" stroke-width="0.95" fill="none"/>
<text transform="translate(107.8,69.88) scale(0.94,1)" font-size="7.45">GMVFNS1</text>
<path d="M68.6 75.56H99.9" stroke="#ff2020" stroke-width="1.0" stroke-dasharray="1.4 1.0" fill="none"/>
<text transform="translate(107.8,78.06) scale(0.94,1)" font-size="7.45">GMVFNS2</text>
<path d="M68.6 83.74H99.9" stroke="#4848ff" stroke-width="1.15" fill="none"/>
<text transform="translate(107.8,86.24) scale(0.94,1)" font-size="7.45">GMVFNS3</text>
<path d="M68.6 91.92H99.9" stroke="#ffa0a0" stroke-width="1.8" stroke-dasharray="0.7 0.7" fill="none"/>
<text transform="translate(107.8,94.42) scale(0.94,1)" font-size="7.45">GMVFNS4</text>
<path d="M68.6 100.10H99.9" stroke="#ff70ff" stroke-width="1.9" fill="none"/>
<text transform="translate(107.8,102.60) scale(0.94,1)" font-size="7.45">GMVFNS5</text>
<path d="M68.6 108.28H99.9" stroke="#ff40ff" stroke-width="1.3" stroke-dasharray="1.5 1.48" fill="none"/>
<text transform="translate(107.8,110.78) scale(0.94,1)" font-size="7.45">GMVFNS6</text>
<path d="M68.6 116.46H99.9" stroke="#222" stroke-width="1.0" stroke-dasharray="1.7 1.26" fill="none"/>
<text transform="translate(107.8,118.96) scale(0.94,1)" font-size="7.45">GMVFNSopt</text>
<path d="M68.6 124.64H99.9" stroke="#4444ff" stroke-width="1.2" stroke-dasharray="1.5 1.48" fill="none"/>
<text transform="translate(107.8,127.14) scale(0.94,1)" font-size="7.45">ZMVFNS</text>
<text x="229.6" y="177.4" font-size="7.9" textLength="29.6" lengthAdjust="spacingAndGlyphs">x=0.0001</text>
<rect x="61.5" y="220.5" width="215.5" height="142.39999999999998" fill="none" stroke="#686868" stroke-width="1"/>
<path d="M126.50 362.9v-2.9M126.50 220.5v2.9" stroke="#333" stroke-width="0.75" fill="none"/>
<path d="M164.50 362.9v-2.9M164.50 220.5v2.9" stroke="#333" stroke-width="0.75" fill="none"/>
<path d="M191.50 362.9v-2.9M191.50 220.5v2.9" stroke="#333" stroke-width="0.75" fill="none"/>
<path d="M212.50 362.9v-2.9M212.50 220.5v2.9" stroke="#333" stroke-width="0.75" fill="none"/>
<path d="M229.50 362.9v-2.9M229.50 220.5v2.9" stroke="#333" stroke-width="0.75" fill="none"/>
<path d="M243.50 362.9v-2.9M243.50 220.5v2.9" stroke="#333" stroke-width="0.75" fill="none"/>
<path d="M256.50 362.9v-2.9M256.50 220.5v2.9" stroke="#333" stroke-width="0.75" fill="none"/>
<path d="M267.50 362.9v-2.9M267.50 220.5v2.9" stroke="#333" stroke-width="0.75" fill="none"/>
<path d="M61.5 327.50h4.5M277.0 327.50h-2.8" stroke="#333" stroke-width="0.75" fill="none"/>
<path d="M61.5 291.50h4.5M277.0 291.50h-2.8" stroke="#333" stroke-width="0.75" fill="none"/>
<path d="M61.5 256.50h4.5M277.0 256.50h-2.8" stroke="#333" stroke-width="0.75" fill="none"/>
<text transform="translate(55.1,365.70) scale(0.87,1)" font-size="7.3" text-anchor="end">0</text>
<text transform="translate(55.1,330.20) scale(0.87,1)" font-size="7.3" text-anchor="end">0.05</text>
<text transform="translate(55.1,294.40) scale(0.87,1)" font-size="7.3" text-anchor="end">0.1</text>
<text transform="translate(55.1,259.10) scale(0.87,1)" font-size="7.3" text-anchor="end">0.15</text>
<text transform="translate(55.1,223.40) scale(0.87,1)" font-size="7.3" text-anchor="end">0.2</text>
<text transform="translate(61.50,373.60) scale(0.87,1)" font-size="7.3" text-anchor="middle">1</text>
<text transform="translate(126.37,373.60) scale(0.87,1)" font-size="7.3" text-anchor="middle">2</text>
<text transform="translate(164.32,373.60) scale(0.87,1)" font-size="7.3" text-anchor="middle">3</text>
<text transform="translate(191.24,373.60) scale(0.87,1)" font-size="7.3" text-anchor="middle">4</text>
<text transform="translate(212.13,373.60) scale(0.87,1)" font-size="7.3" text-anchor="middle">5</text>
<text transform="translate(229.19,373.60) scale(0.87,1)" font-size="7.3" text-anchor="middle">6</text>
<text transform="translate(243.62,373.60) scale(0.87,1)" font-size="7.3" text-anchor="middle">7</text>
<text transform="translate(256.12,373.60) scale(0.87,1)" font-size="7.3" text-anchor="middle">8</text>
<text transform="translate(267.14,373.60) scale(0.87,1)" font-size="7.3" text-anchor="middle">9</text>
<text x="276.6" y="373.90" font-size="8.6">Q<tspan dy="-4.4" font-size="5.6">2</tspan></text>
<g transform="translate(40.0,284.6) rotate(-90)"><text x="0" y="0" font-size="8.5">F<tspan dy="1.8" font-size="5">2</tspan><tspan dx="-2.5" dy="-5.2" font-size="5">c</tspan><tspan dy="3.4" font-size="8.5">(x,Q</tspan><tspan dy="-3.4" font-size="5">2</tspan><tspan dy="3.4" font-size="8.5">)</tspan></text></g>
<g clip-path="url(#cl)" fill="none" stroke-linejoin="round">
<polyline points="61.50,350.60 62.50,350.48 63.50,350.36 64.50,350.23 65.50,350.11 66.50,349.98 67.50,349.85 68.50,349.72 69.50,349.59 70.50,349.46 71.50,349.33 72.50,349.19 73.50,349.05 74.50,348.91 75.50,348.77 76.50,348.63 77.50,348.49 78.50,348.34 79.50,348.19 80.50,348.04 81.50,347.89 82.50,347.74 83.50,347.59 84.50,347.43 85.50,347.28 86.50,347.12 87.50,346.96 88.50,346.80 89.50,346.64 90.50,346.47 91.50,346.30 92.50,346.14 93.50,345.97 94.50,345.80 95.50,345.62 96.50,345.45 97.50,345.28 98.50,345.10 99.50,344.92 100.50,344.74 101.50,344.56 102.50,344.37 103.50,344.19 104.50,344.00 105.50,343.81 106.50,343.62 107.50,343.43 108.50,343.24 109.50,343.05 110.50,342.85 111.50,342.65 112.50,342.45 113.50,342.25 114.50,342.05 115.50,341.85 116.50,341.64 117.50,341.43 118.50,341.23 119.50,341.02 120.50,340.80 121.50,340.59 122.50,340.38 123.50,340.16 124.50,339.94 125.50,339.72 126.50,339.50 127.50,339.25 128.50,338.99 129.50,338.73 130.50,338.46 131.50,338.19 132.50,337.91 133.50,337.63 134.50,337.34 135.50,337.05 136.50,336.75 137.50,336.45 138.50,336.14 139.50,335.83 140.50,335.51 141.50,335.19 142.50,334.87 143.50,334.53 144.50,334.20 145.50,333.85 146.50,333.51 147.50,333.16 148.50,332.80 149.50,332.44 150.50,332.07 151.50,331.70 152.50,331.32 153.50,330.94 154.50,330.56 155.50,330.16 156.50,329.77 157.50,329.37 158.50,328.96 159.50,328.55 160.50,328.13 161.50,327.71 162.50,327.29 163.50,326.85 164.50,326.42 165.50,325.98 166.50,325.53 167.50,325.08 168.50,324.63 169.50,324.16 170.50,323.70 171.50,323.23 172.50,322.75 173.50,322.27 174.50,321.79 175.50,321.30 176.50,320.80 177.50,320.30 178.50,319.79 179.50,319.28 180.50,318.77 181.50,318.25 182.50,317.72 183.50,317.19 184.50,316.66 185.50,316.12 186.50,315.57 187.50,315.02 188.50,314.47 189.50,313.91 190.50,313.34 191.50,312.77 192.50,312.20 193.50,311.62 194.50,311.03 195.50,310.44 196.50,309.85 197.50,309.25 198.50,308.64 199.50,308.03 200.50,307.42 201.50,306.80 202.50,306.18 203.50,305.55 204.50,304.91 205.50,304.27 206.50,303.63 207.50,302.98 208.50,302.32 209.50,301.67 210.50,301.00 211.50,300.33 212.50,299.66 213.50,298.98 214.50,298.29 215.50,297.61 216.50,296.91 217.50,296.21 218.50,295.51 219.50,294.80 220.50,294.09 221.50,293.37 222.50,292.64 223.50,291.92 224.50,291.18 225.50,290.44 226.50,289.70 227.50,288.95 228.50,288.20 229.50,287.44 230.50,286.68 231.50,285.91 232.50,285.13 233.50,284.36 234.50,283.57 235.50,282.79 236.50,281.99 237.50,281.19 238.50,280.39 239.50,279.58 240.50,278.77 241.50,277.95 242.50,277.13 243.50,276.30 244.50,275.47 245.50,274.63 246.50,273.79 247.50,272.94 248.50,272.09 249.50,271.23 250.50,270.37 251.50,269.50 252.50,268.63 253.50,267.75 254.50,266.87 255.50,265.98 256.50,265.09 257.50,264.19 258.50,263.29 259.50,262.38 260.50,261.47 261.50,260.55 262.50,259.63 263.50,258.70 264.50,257.77 265.50,256.83 266.50,255.89 267.50,254.95 268.50,253.99 269.50,253.04 270.50,252.07 271.50,251.11 272.50,250.14 273.50,249.16 274.50,248.18 275.50,247.19 276.50,246.20 277.00,245.70" stroke="#ffa0a0" stroke-width="1.2" stroke-dasharray="0.91 0.91"/>
<polyline points="61.50,350.60 62.50,350.48 63.50,350.36 64.50,350.23 65.50,350.11 66.50,349.98 67.50,349.85 68.50,349.72 69.50,349.59 70.50,349.46 71.50,349.33 72.50,349.19 73.50,349.05 74.50,348.91 75.50,348.77 76.50,348.63 77.50,348.49 78.50,348.34 79.50,348.19 80.50,348.04 81.50,347.89 82.50,347.74 83.50,347.59 84.50,347.43 85.50,347.28 86.50,347.12 87.50,346.96 88.50,346.80 89.50,346.64 90.50,346.47 91.50,346.30 92.50,346.14 93.50,345.97 94.50,345.80 95.50,345.62 96.50,345.45 97.50,345.28 98.50,345.10 99.50,344.92 100.50,344.74 101.50,344.56 102.50,344.37 103.50,344.19 104.50,344.00 105.50,343.81 106.50,343.62 107.50,343.43 108.50,343.24 109.50,343.05 110.50,342.85 111.50,342.65 112.50,342.45 113.50,342.25 114.50,342.05 115.50,341.85 116.50,341.64 117.50,341.43 118.50,341.23 119.50,341.02 120.50,340.80 121.50,340.59 122.50,340.38 123.50,340.16 124.50,339.94 125.50,339.72 126.50,339.50 127.50,339.00 128.50,338.51 129.50,338.01 130.50,337.52 131.50,337.03 132.50,336.55 133.50,336.06 134.50,335.58 135.50,335.10 136.50,334.62 137.50,334.14 138.50,333.67 139.50,333.20 140.50,332.72 141.50,332.25 142.50,331.78 143.50,331.32 144.50,330.85 145.50,330.38 146.50,329.92 147.50,329.45 148.50,328.99 149.50,328.53 150.50,328.07 151.50,327.61 152.50,327.15 153.50,326.69 154.50,326.23 155.50,325.77 156.50,325.31 157.50,324.85 158.50,324.39 159.50,323.93 160.50,323.47 161.50,323.01 162.50,322.55 163.50,322.09 164.50,321.63 165.50,321.17 166.50,320.71 167.50,320.25 168.50,319.78 169.50,319.32 170.50,318.85 171.50,318.39 172.50,317.92 173.50,317.45 174.50,316.98 175.50,316.51 176.50,316.04 177.50,315.56 178.50,315.09 179.50,314.61 180.50,314.13 181.50,313.65 182.50,313.17 183.50,312.68 184.50,312.19 185.50,311.70 186.50,311.21 187.50,310.72 188.50,310.22 189.50,309.72 190.50,309.22 191.50,308.72 192.50,308.21 193.50,307.70 194.50,307.19 195.50,306.67 196.50,306.15 197.50,305.63 198.50,305.11 199.50,304.58 200.50,304.04 201.50,303.51 202.50,302.97 203.50,302.43 204.50,301.88 205.50,301.33 206.50,300.78 207.50,300.22 208.50,299.66 209.50,299.09 210.50,298.52 211.50,297.94 212.50,297.36 213.50,296.78 214.50,296.19 215.50,295.60 216.50,295.00 217.50,294.40 218.50,293.79 219.50,293.18 220.50,292.56 221.50,291.93 222.50,291.31 223.50,290.67 224.50,290.03 225.50,289.39 226.50,288.74 227.50,288.08 228.50,287.42 229.50,286.76 230.50,286.08 231.50,285.40 232.50,284.72 233.50,284.03 234.50,283.33 235.50,282.63 236.50,281.92 237.50,281.20 238.50,280.48 239.50,279.75 240.50,279.01 241.50,278.27 242.50,277.52 243.50,276.76 244.50,276.00 245.50,275.23 246.50,274.45 247.50,273.66 248.50,272.87 249.50,272.07 250.50,271.26 251.50,270.45 252.50,269.62 253.50,268.79 254.50,267.95 255.50,267.11 256.50,266.25 257.50,265.39 258.50,264.52 259.50,263.64 260.50,262.75 261.50,261.86 262.50,260.95 263.50,260.04 264.50,259.12 265.50,258.19 266.50,257.25 267.50,256.30 268.50,255.34 269.50,254.37 270.50,253.40 271.50,252.41 272.50,251.42 273.50,250.42 274.50,249.40 275.50,248.38 276.50,247.35 277.00,246.83" stroke="#ff40ff" stroke-width="1.2" stroke-dasharray="1.89 1.82"/>
<polyline points="61.50,350.60 62.50,350.48 63.50,350.36 64.50,350.23 65.50,350.11 66.50,349.98 67.50,349.85 68.50,349.72 69.50,349.59 70.50,349.46 71.50,349.33 72.50,349.19 73.50,349.05 74.50,348.91 75.50,348.77 76.50,348.63 77.50,348.49 78.50,348.34 79.50,348.19 80.50,348.04 81.50,347.89 82.50,347.74 83.50,347.59 84.50,347.43 85.50,347.28 86.50,347.12 87.50,346.96 88.50,346.80 89.50,346.64 90.50,346.47 91.50,346.30 92.50,346.14 93.50,345.97 94.50,345.80 95.50,345.62 96.50,345.45 97.50,345.28 98.50,345.10 99.50,344.92 100.50,344.74 101.50,344.56 102.50,344.37 103.50,344.19 104.50,344.00 105.50,343.81 106.50,343.62 107.50,343.43 108.50,343.24 109.50,343.05 110.50,342.85 111.50,342.65 112.50,342.45 113.50,342.25 114.50,342.05 115.50,341.85 116.50,341.64 117.50,341.43 118.50,341.23 119.50,341.02 120.50,340.80 121.50,340.59 122.50,340.38 123.50,340.16 124.50,339.94 125.50,339.72 126.50,339.50 127.50,338.96 128.50,338.42 129.50,337.87 130.50,337.32 131.50,336.78 132.50,336.23 133.50,335.67 134.50,335.12 135.50,334.56 136.50,334.00 137.50,333.44 138.50,332.88 139.50,332.32 140.50,331.75 141.50,331.18 142.50,330.61 143.50,330.04 144.50,329.47 145.50,328.89 146.50,328.32 147.50,327.74 148.50,327.16 149.50,326.57 150.50,325.99 151.50,325.40 152.50,324.81 153.50,324.22 154.50,323.63 155.50,323.03 156.50,322.44 157.50,321.84 158.50,321.24 159.50,320.63 160.50,320.03 161.50,319.42 162.50,318.82 163.50,318.21 164.50,317.59 165.50,316.98 166.50,316.36 167.50,315.75 168.50,315.13 169.50,314.50 170.50,313.88 171.50,313.26 172.50,312.63 173.50,312.00 174.50,311.37 175.50,310.74 176.50,310.10 177.50,309.46 178.50,308.82 179.50,308.18 180.50,307.54 181.50,306.90 182.50,306.25 183.50,305.60 184.50,304.95 185.50,304.30 186.50,303.64 187.50,302.99 188.50,302.33 189.50,301.67 190.50,301.01 191.50,300.34 192.50,299.68 193.50,299.01 194.50,298.34 195.50,297.67 196.50,297.00 197.50,296.32 198.50,295.64 199.50,294.96 200.50,294.28 201.50,293.60 202.50,292.92 203.50,292.23 204.50,291.54 205.50,290.85 206.50,290.16 207.50,289.46 208.50,288.76 209.50,288.07 210.50,287.37 211.50,286.66 212.50,285.96 213.50,285.25 214.50,284.55 215.50,283.84 216.50,283.12 217.50,282.41 218.50,281.69 219.50,280.98 220.50,280.26 221.50,279.54 222.50,278.81 223.50,278.09 224.50,277.36 225.50,276.63 226.50,275.90 227.50,275.17 228.50,274.43 229.50,273.70 230.50,272.96 231.50,272.22 232.50,271.47 233.50,270.73 234.50,269.98 235.50,269.23 236.50,268.48 237.50,267.73 238.50,266.98 239.50,266.22 240.50,265.46 241.50,264.70 242.50,263.94 243.50,263.18 244.50,262.41 245.50,261.65 246.50,260.88 247.50,260.10 248.50,259.33 249.50,258.56 250.50,257.78 251.50,257.00 252.50,256.22 253.50,255.44 254.50,254.65 255.50,253.86 256.50,253.08 257.50,252.29 258.50,251.49 259.50,250.70 260.50,249.90 261.50,249.10 262.50,248.30 263.50,247.50 264.50,246.70 265.50,245.89 266.50,245.08 267.50,244.27 268.50,243.46 269.50,242.65 270.50,241.83 271.50,241.02 272.50,240.20 273.50,239.38 274.50,238.55 275.50,237.73 276.50,236.90 277.00,236.49" stroke="#1a1a1a" stroke-width="1.2"/>
<polyline points="61.50,350.60 62.50,350.48 63.50,350.36 64.50,350.23 65.50,350.11 66.50,349.98 67.50,349.85 68.50,349.72 69.50,349.59 70.50,349.46 71.50,349.33 72.50,349.19 73.50,349.05 74.50,348.91 75.50,348.77 76.50,348.63 77.50,348.49 78.50,348.34 79.50,348.19 80.50,348.04 81.50,347.89 82.50,347.74 83.50,347.59 84.50,347.43 85.50,347.28 86.50,347.12 87.50,346.96 88.50,346.80 89.50,346.64 90.50,346.47 91.50,346.30 92.50,346.14 93.50,345.97 94.50,345.80 95.50,345.62 96.50,345.45 97.50,345.28 98.50,345.10 99.50,344.92 100.50,344.74 101.50,344.56 102.50,344.37 103.50,344.19 104.50,344.00 105.50,343.81 106.50,343.62 107.50,343.43 108.50,343.24 109.50,343.05 110.50,342.85 111.50,342.65 112.50,342.45 113.50,342.25 114.50,342.05 115.50,341.85 116.50,341.64 117.50,341.43 118.50,341.23 119.50,341.02 120.50,340.80 121.50,340.59 122.50,340.38 123.50,340.16 124.50,339.94 125.50,339.72 126.50,339.50 127.50,339.25 128.50,338.99 129.50,338.73 130.50,338.46 131.50,338.19 132.50,337.91 133.50,337.63 134.50,337.34 135.50,337.05 136.50,336.75 137.50,336.45 138.50,336.14 139.50,335.83 140.50,335.51 141.50,335.19 142.50,334.87 143.50,334.53 144.50,334.20 145.50,333.85 146.50,333.51 147.50,333.16 148.50,332.80 149.50,332.44 150.50,332.07 151.50,331.70 152.50,331.32 153.50,330.94 154.50,330.56 155.50,330.16 156.50,329.77 157.50,329.37 158.50,328.96 159.50,328.55 160.50,328.13 161.50,327.71 162.50,327.29 163.50,326.85 164.50,326.42 165.50,325.98 166.50,325.53 167.50,325.08 168.50,324.63 169.50,324.16 170.50,323.70 171.50,323.23 172.50,322.75 173.50,322.27 174.50,321.79 175.50,321.30 176.50,320.80 177.50,320.30 178.50,319.79 179.50,319.28 180.50,318.77 181.50,318.25 182.50,317.72 183.50,317.19 184.50,316.66 185.50,316.12 186.50,315.57 187.50,315.02 188.50,314.47 189.50,313.91 190.50,313.34 191.50,312.77 192.50,312.20 193.50,311.62 194.50,311.03 195.50,310.44 196.50,309.85 197.50,309.25 198.50,308.64 199.50,308.03 200.50,307.42 201.50,306.80 202.50,306.18 203.50,305.55 204.50,304.91 205.50,304.27 206.50,303.63 207.50,302.98 208.50,302.32 209.50,301.67 210.50,301.00 211.50,300.33 212.50,299.66 213.50,298.98 214.50,298.29 215.50,297.61 216.50,296.91 217.50,296.21 218.50,295.51 219.50,294.80 220.50,294.09 221.50,293.37 222.50,292.64 223.50,291.92 224.50,291.18 225.50,290.44 226.50,289.70 227.50,288.95 228.50,288.20 229.50,287.44 230.50,286.68 231.50,285.91 232.50,285.13 233.50,284.36 234.50,283.57 235.50,282.79 236.50,281.99 237.50,281.19 238.50,280.39 239.50,279.58 240.50,278.77 241.50,277.95 242.50,277.13 243.50,276.30 244.50,275.47 245.50,274.63 246.50,273.79 247.50,272.94 248.50,272.09 249.50,271.23 250.50,270.37 251.50,269.50 252.50,268.63 253.50,267.75 254.50,266.87 255.50,265.98 256.50,265.09 257.50,264.19 258.50,263.29 259.50,262.38 260.50,261.47 261.50,260.55 262.50,259.63 263.50,258.70 264.50,257.77 265.50,256.83 266.50,255.89 267.50,254.95 268.50,253.99 269.50,253.04 270.50,252.07 271.50,251.11 272.50,250.14 273.50,249.16 274.50,248.18 275.50,247.19 276.50,246.20 277.00,245.70" stroke="#ff2020" stroke-width="1.25"/>
<polyline points="61.50,350.60 62.50,350.48 63.50,350.36 64.50,350.23 65.50,350.11 66.50,349.98 67.50,349.85 68.50,349.72 69.50,349.59 70.50,349.46 71.50,349.33 72.50,349.19 73.50,349.05 74.50,348.91 75.50,348.77 76.50,348.63 77.50,348.49 78.50,348.34 79.50,348.19 80.50,348.04 81.50,347.89 82.50,347.74 83.50,347.59 84.50,347.43 85.50,347.28 86.50,347.12 87.50,346.96 88.50,346.80 89.50,346.64 90.50,346.47 91.50,346.30 92.50,346.14 93.50,345.97 94.50,345.80 95.50,345.62 96.50,345.45 97.50,345.28 98.50,345.10 99.50,344.92 100.50,344.74 101.50,344.56 102.50,344.37 103.50,344.19 104.50,344.00 105.50,343.81 106.50,343.62 107.50,343.43 108.50,343.24 109.50,343.05 110.50,342.85 111.50,342.65 112.50,342.45 113.50,342.25 114.50,342.05 115.50,341.85 116.50,341.64 117.50,341.43 118.50,341.23 119.50,341.02 120.50,340.80 121.50,340.59 122.50,340.38 123.50,340.16 124.50,339.94 125.50,339.72 126.50,339.50 127.50,339.32 128.50,339.13 129.50,338.94 130.50,338.74 131.50,338.54 132.50,338.33 133.50,338.12 134.50,337.91 135.50,337.69 136.50,337.46 137.50,337.23 138.50,336.99 139.50,336.75 140.50,336.51 141.50,336.26 142.50,336.01 143.50,335.75 144.50,335.48 145.50,335.21 146.50,334.94 147.50,334.66 148.50,334.38 149.50,334.09 150.50,333.80 151.50,333.50 152.50,333.20 153.50,332.89 154.50,332.58 155.50,332.26 156.50,331.94 157.50,331.61 158.50,331.28 159.50,330.95 160.50,330.61 161.50,330.26 162.50,329.91 163.50,329.55 164.50,329.19 165.50,328.83 166.50,328.46 167.50,328.09 168.50,327.71 169.50,327.32 170.50,326.93 171.50,326.54 172.50,326.14 173.50,325.74 174.50,325.33 175.50,324.92 176.50,324.50 177.50,324.08 178.50,323.65 179.50,323.22 180.50,322.78 181.50,322.34 182.50,321.89 183.50,321.44 184.50,320.99 185.50,320.53 186.50,320.06 187.50,319.59 188.50,319.11 189.50,318.63 190.50,318.15 191.50,317.66 192.50,317.17 193.50,316.67 194.50,316.16 195.50,315.65 196.50,315.14 197.50,314.62 198.50,314.10 199.50,313.57 200.50,313.04 201.50,312.50 202.50,311.96 203.50,311.41 204.50,310.86 205.50,310.30 206.50,309.74 207.50,309.17 208.50,308.60 209.50,308.03 210.50,307.45 211.50,306.86 212.50,306.27 213.50,305.67 214.50,305.07 215.50,304.47 216.50,303.86 217.50,303.25 218.50,302.63 219.50,302.00 220.50,301.37 221.50,300.74 222.50,300.10 223.50,299.46 224.50,298.81 225.50,298.16 226.50,297.50 227.50,296.84 228.50,296.17 229.50,295.50 230.50,294.82 231.50,294.14 232.50,293.45 233.50,292.76 234.50,292.07 235.50,291.37 236.50,290.66 237.50,289.95 238.50,289.23 239.50,288.51 240.50,287.79 241.50,287.06 242.50,286.33 243.50,285.59 244.50,284.84 245.50,284.09 246.50,283.34 247.50,282.58 248.50,281.82 249.50,281.05 250.50,280.28 251.50,279.50 252.50,278.72 253.50,277.93 254.50,277.14 255.50,276.34 256.50,275.54 257.50,274.73 258.50,273.92 259.50,273.11 260.50,272.29 261.50,271.46 262.50,270.63 263.50,269.79 264.50,268.95 265.50,268.11 266.50,267.26 267.50,266.41 268.50,265.55 269.50,264.68 270.50,263.81 271.50,262.94 272.50,262.06 273.50,261.18 274.50,260.29 275.50,259.40 276.50,258.50 277.00,258.05" stroke="#ff2020" stroke-width="1.1" stroke-dasharray="1.82 1.30"/>
<polyline points="61.50,350.60 62.50,350.48 63.50,350.36 64.50,350.23 65.50,350.11 66.50,349.98 67.50,349.85 68.50,349.72 69.50,349.59 70.50,349.46 71.50,349.33 72.50,349.19 73.50,349.05 74.50,348.91 75.50,348.77 76.50,348.63 77.50,348.49 78.50,348.34 79.50,348.19 80.50,348.04 81.50,347.89 82.50,347.74 83.50,347.59 84.50,347.43 85.50,347.28 86.50,347.12 87.50,346.96 88.50,346.80 89.50,346.64 90.50,346.47 91.50,346.30 92.50,346.14 93.50,345.97 94.50,345.80 95.50,345.62 96.50,345.45 97.50,345.28 98.50,345.10 99.50,344.92 100.50,344.74 101.50,344.56 102.50,344.37 103.50,344.19 104.50,344.00 105.50,343.81 106.50,343.62 107.50,343.43 108.50,343.24 109.50,343.05 110.50,342.85 111.50,342.65 112.50,342.45 113.50,342.25 114.50,342.05 115.50,341.85 116.50,341.64 117.50,341.43 118.50,341.23 119.50,341.02 120.50,340.80 121.50,340.59 122.50,340.38 123.50,340.16 124.50,339.94 125.50,339.72 126.50,339.50 127.50,339.00 128.50,338.50 129.50,337.99 130.50,337.48 131.50,336.98 132.50,336.47 133.50,335.95 134.50,335.44 135.50,334.92 136.50,334.40 137.50,333.88 138.50,333.36 139.50,332.84 140.50,332.31 141.50,331.78 142.50,331.25 143.50,330.72 144.50,330.19 145.50,329.65 146.50,329.11 147.50,328.57 148.50,328.03 149.50,327.49 150.50,326.94 151.50,326.39 152.50,325.84 153.50,325.29 154.50,324.74 155.50,324.18 156.50,323.63 157.50,323.07 158.50,322.51 159.50,321.94 160.50,321.38 161.50,320.81 162.50,320.24 163.50,319.67 164.50,319.10 165.50,318.52 166.50,317.95 167.50,317.37 168.50,316.79 169.50,316.21 170.50,315.62 171.50,315.04 172.50,314.45 173.50,313.86 174.50,313.27 175.50,312.67 176.50,312.07 177.50,311.48 178.50,310.88 179.50,310.28 180.50,309.67 181.50,309.07 182.50,308.46 183.50,307.85 184.50,307.24 185.50,306.62 186.50,306.01 187.50,305.39 188.50,304.77 189.50,304.15 190.50,303.53 191.50,302.90 192.50,302.27 193.50,301.65 194.50,301.01 195.50,300.38 196.50,299.75 197.50,299.11 198.50,298.47 199.50,297.83 200.50,297.19 201.50,296.54 202.50,295.90 203.50,295.25 204.50,294.60 205.50,293.95 206.50,293.29 207.50,292.64 208.50,291.98 209.50,291.32 210.50,290.66 211.50,289.99 212.50,289.33 213.50,288.66 214.50,287.99 215.50,287.32 216.50,286.64 217.50,285.97 218.50,285.29 219.50,284.61 220.50,283.93 221.50,283.25 222.50,282.56 223.50,281.87 224.50,281.18 225.50,280.49 226.50,279.80 227.50,279.11 228.50,278.41 229.50,277.71 230.50,277.01 231.50,276.31 232.50,275.60 233.50,274.89 234.50,274.19 235.50,273.48 236.50,272.76 237.50,272.05 238.50,271.33 239.50,270.61 240.50,269.89 241.50,269.17 242.50,268.45 243.50,267.72 244.50,266.99 245.50,266.26 246.50,265.53 247.50,264.80 248.50,264.06 249.50,263.32 250.50,262.59 251.50,261.84 252.50,261.10 253.50,260.35 254.50,259.61 255.50,258.86 256.50,258.11 257.50,257.35 258.50,256.60 259.50,255.84 260.50,255.08 261.50,254.32 262.50,253.56 263.50,252.79 264.50,252.03 265.50,251.26 266.50,250.49 267.50,249.72 268.50,248.94 269.50,248.16 270.50,247.39 271.50,246.61 272.50,245.82 273.50,245.04 274.50,244.25 275.50,243.47 276.50,242.68 277.00,242.28" stroke="#4040ff" stroke-width="1.15"/>
<polyline points="61.50,350.60 62.50,350.48 63.50,350.36 64.50,350.23 65.50,350.11 66.50,349.98 67.50,349.85 68.50,349.72 69.50,349.59 70.50,349.46 71.50,349.33 72.50,349.19 73.50,349.05 74.50,348.91 75.50,348.77 76.50,348.63 77.50,348.49 78.50,348.34 79.50,348.19 80.50,348.04 81.50,347.89 82.50,347.74 83.50,347.59 84.50,347.43 85.50,347.28 86.50,347.12 87.50,346.96 88.50,346.80 89.50,346.64 90.50,346.47 91.50,346.30 92.50,346.14 93.50,345.97 94.50,345.80 95.50,345.62 96.50,345.45 97.50,345.28 98.50,345.10 99.50,344.92 100.50,344.74 101.50,344.56 102.50,344.37 103.50,344.19 104.50,344.00 105.50,343.81 106.50,343.62 107.50,343.43 108.50,343.24 109.50,343.05 110.50,342.85 111.50,342.65 112.50,342.45 113.50,342.25 114.50,342.05 115.50,341.85 116.50,341.64 117.50,341.43 118.50,341.23 119.50,341.02 120.50,340.80 121.50,340.59 122.50,340.38 123.50,340.16 124.50,339.94 125.50,339.72 126.50,339.50 127.50,338.76 128.50,338.03 129.50,337.30 130.50,336.58 131.50,335.86 132.50,335.14 133.50,334.42 134.50,333.71 135.50,333.00 136.50,332.30 137.50,331.59 138.50,330.89 139.50,330.19 140.50,329.50 141.50,328.81 142.50,328.12 143.50,327.43 144.50,326.74 145.50,326.06 146.50,325.38 147.50,324.70 148.50,324.02 149.50,323.35 150.50,322.68 151.50,322.01 152.50,321.34 153.50,320.67 154.50,320.01 155.50,319.35 156.50,318.69 157.50,318.03 158.50,317.37 159.50,316.71 160.50,316.06 161.50,315.41 162.50,314.75 163.50,314.10 164.50,313.45 165.50,312.80 166.50,312.16 167.50,311.51 168.50,310.86 169.50,310.22 170.50,309.58 171.50,308.93 172.50,308.29 173.50,307.65 174.50,307.01 175.50,306.37 176.50,305.73 177.50,305.08 178.50,304.45 179.50,303.81 180.50,303.17 181.50,302.53 182.50,301.89 183.50,301.25 184.50,300.61 185.50,299.97 186.50,299.33 187.50,298.69 188.50,298.05 189.50,297.41 190.50,296.77 191.50,296.13 192.50,295.48 193.50,294.84 194.50,294.20 195.50,293.55 196.50,292.91 197.50,292.26 198.50,291.61 199.50,290.97 200.50,290.32 201.50,289.67 202.50,289.01 203.50,288.36 204.50,287.71 205.50,287.05 206.50,286.40 207.50,285.74 208.50,285.08 209.50,284.41 210.50,283.75 211.50,283.09 212.50,282.42 213.50,281.75 214.50,281.08 215.50,280.41 216.50,279.73 217.50,279.05 218.50,278.37 219.50,277.69 220.50,277.01 221.50,276.32 222.50,275.63 223.50,274.94 224.50,274.25 225.50,273.55 226.50,272.85 227.50,272.15 228.50,271.44 229.50,270.73 230.50,270.02 231.50,269.31 232.50,268.59 233.50,267.87 234.50,267.15 235.50,266.42 236.50,265.69 237.50,264.96 238.50,264.22 239.50,263.48 240.50,262.74 241.50,261.99 242.50,261.24 243.50,260.48 244.50,259.72 245.50,258.96 246.50,258.19 247.50,257.42 248.50,256.64 249.50,255.87 250.50,255.08 251.50,254.29 252.50,253.50 253.50,252.70 254.50,251.90 255.50,251.10 256.50,250.29 257.50,249.47 258.50,248.65 259.50,247.83 260.50,247.00 261.50,246.16 262.50,245.32 263.50,244.48 264.50,243.63 265.50,242.78 266.50,241.92 267.50,241.05 268.50,240.18 269.50,239.30 270.50,238.42 271.50,237.54 272.50,236.64 273.50,235.74 274.50,234.84 275.50,233.93 276.50,233.02 277.00,232.55" stroke="#ff50ff" stroke-width="1.3"/>
<polyline points="61.50,350.60 62.50,350.48 63.50,350.36 64.50,350.23 65.50,350.11 66.50,349.98 67.50,349.85 68.50,349.72 69.50,349.59 70.50,349.46 71.50,349.33 72.50,349.19 73.50,349.05 74.50,348.91 75.50,348.77 76.50,348.63 77.50,348.49 78.50,348.34 79.50,348.19 80.50,348.04 81.50,347.89 82.50,347.74 83.50,347.59 84.50,347.43 85.50,347.28 86.50,347.12 87.50,346.96 88.50,346.80 89.50,346.64 90.50,346.47 91.50,346.30 92.50,346.14 93.50,345.97 94.50,345.80 95.50,345.62 96.50,345.45 97.50,345.28 98.50,345.10 99.50,344.92 100.50,344.74 101.50,344.56 102.50,344.37 103.50,344.19 104.50,344.00 105.50,343.81 106.50,343.62 107.50,343.43 108.50,343.24 109.50,343.05 110.50,342.85 111.50,342.65 112.50,342.45 113.50,342.25 114.50,342.05 115.50,341.85 116.50,341.64 117.50,341.43 118.50,341.23 119.50,341.02 120.50,340.80 121.50,340.59 122.50,340.38 123.50,340.16 124.50,339.94 125.50,339.72 126.50,339.50 127.50,339.17 128.50,338.83 129.50,338.49 130.50,338.15 131.50,337.81 132.50,337.46 133.50,337.10 134.50,336.74 135.50,336.38 136.50,336.02 137.50,335.65 138.50,335.28 139.50,334.91 140.50,334.53 141.50,334.14 142.50,333.76 143.50,333.37 144.50,332.98 145.50,332.58 146.50,332.18 147.50,331.78 148.50,331.37 149.50,330.96 150.50,330.54 151.50,330.12 152.50,329.70 153.50,329.28 154.50,328.85 155.50,328.42 156.50,327.98 157.50,327.54 158.50,327.10 159.50,326.65 160.50,326.20 161.50,325.75 162.50,325.29 163.50,324.83 164.50,324.36 165.50,323.89 166.50,323.42 167.50,322.94 168.50,322.46 169.50,321.98 170.50,321.50 171.50,321.00 172.50,320.51 173.50,320.01 174.50,319.51 175.50,319.01 176.50,318.50 177.50,317.99 178.50,317.47 179.50,316.95 180.50,316.43 181.50,315.90 182.50,315.38 183.50,314.84 184.50,314.30 185.50,313.76 186.50,313.22 187.50,312.67 188.50,312.12 189.50,311.57 190.50,311.01 191.50,310.44 192.50,309.88 193.50,309.31 194.50,308.74 195.50,308.16 196.50,307.58 197.50,307.00 198.50,306.41 199.50,305.82 200.50,305.22 201.50,304.62 202.50,304.02 203.50,303.42 204.50,302.81 205.50,302.20 206.50,301.58 207.50,300.96 208.50,300.34 209.50,299.71 210.50,299.08 211.50,298.44 212.50,297.81 213.50,297.17 214.50,296.52 215.50,295.87 216.50,295.22 217.50,294.56 218.50,293.90 219.50,293.24 220.50,292.58 221.50,291.90 222.50,291.23 223.50,290.55 224.50,289.87 225.50,289.19 226.50,288.50 227.50,287.81 228.50,287.11 229.50,286.41 230.50,285.71 231.50,285.00 232.50,284.30 233.50,283.58 234.50,282.86 235.50,282.14 236.50,281.42 237.50,280.69 238.50,279.96 239.50,279.23 240.50,278.49 241.50,277.75 242.50,277.00 243.50,276.25 244.50,275.50 245.50,274.74 246.50,273.98 247.50,273.22 248.50,272.45 249.50,271.68 250.50,270.90 251.50,270.12 252.50,269.34 253.50,268.56 254.50,267.77 255.50,266.98 256.50,266.18 257.50,265.38 258.50,264.58 259.50,263.77 260.50,262.96 261.50,262.14 262.50,261.33 263.50,260.51 264.50,259.68 265.50,258.85 266.50,258.02 267.50,257.18 268.50,256.34 269.50,255.50 270.50,254.66 271.50,253.81 272.50,252.95 273.50,252.09 274.50,251.23 275.50,250.37 276.50,249.50 277.00,249.06" stroke="#222" stroke-width="1.0" stroke-dasharray="2.08 1.62"/>
<polyline points="61.50,362.90 116.00,362.90" stroke="#7070ff" stroke-width="1.0" stroke-dasharray="1.5 1.35"/>
<polyline points="116.00,362.90 117.20,360.50 118.40,358.10 120.20,355.10 122.00,352.10 123.90,349.10 125.70,346.70 127.50,343.90 129.30,341.30 131.10,338.70 134.10,335.40 137.70,331.60 141.30,328.00 145.00,324.20 180.40,290.00 200.00,271.80 237.00,239.10 257.30,220.50" stroke="#4040ff" stroke-width="1.2" stroke-dasharray="1.45 2.05"/>
</g>
<path d="M68.6 227.80H99.9" stroke="#8c8c8c" stroke-width="1.7" fill="none"/>
<text transform="translate(107.8,230.30) scale(0.94,1)" font-size="7.45">MSTW08</text>
<path d="M68.6 235.00H99.9" stroke="#ff9c9c" stroke-width="1.8" fill="none"/>
<text transform="translate(107.8,237.50) scale(0.94,1)" font-size="7.45">GMVFNS1</text>
<path d="M68.6 242.10H99.9" stroke="#ff8080" stroke-width="1.7" stroke-dasharray="1.4 1.59" fill="none"/>
<text transform="translate(107.8,244.60) scale(0.94,1)" font-size="7.45">GMVFNS2</text>
<path d="M68.6 249.50H99.9" stroke="#3838ff" stroke-width="0.95" fill="none"/>
<text transform="translate(107.8,252.00) scale(0.94,1)" font-size="7.45">GMVFNS3</text>
<path d="M68.6 256.40H99.9" stroke="#ff6060" stroke-width="0.9" stroke-dasharray="2.1 0.7 0.5 0.6" fill="none"/>
<text transform="translate(107.8,258.90) scale(0.94,1)" font-size="7.45">GMVFNS4</text>
<path d="M68.6 263.50H99.9" stroke="#ff38ff" stroke-width="1.0" fill="none"/>
<text transform="translate(107.8,266.00) scale(0.94,1)" font-size="7.45">GMVFNS5</text>
<path d="M68.6 270.40H99.9" stroke="#ff38ff" stroke-width="1.1" stroke-dasharray="1.5 1.48" fill="none"/>
<text transform="translate(107.8,272.90) scale(0.94,1)" font-size="7.45">GMVFNS6</text>
<path d="M68.6 277.40H99.9" stroke="#333" stroke-width="1.1" stroke-dasharray="1.7 1.26" fill="none"/>
<text transform="translate(107.8,279.90) scale(0.94,1)" font-size="7.45">GMVFNSopt</text>
<path d="M68.6 284.60H99.9" stroke="#4848ff" stroke-width="1.3" stroke-dasharray="1.4 1.59" fill="none"/>
<text transform="translate(107.8,287.10) scale(0.94,1)" font-size="7.45">ZMVFNS</text>
<text x="229.6" y="341.8" font-size="7.9" textLength="25.4" lengthAdjust="spacingAndGlyphs">x=0.001</text>
</svg></body></html>
